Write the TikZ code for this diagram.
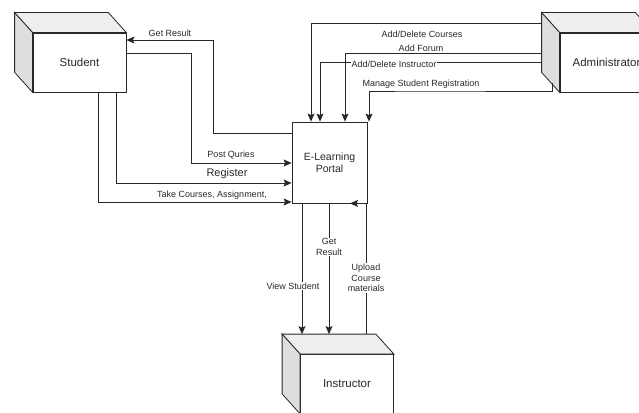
\documentclass[tikz,border=0pt]{standalone}
\usepackage{fontspec}
\setmainfont{Liberation Sans}
\usetikzlibrary{arrows.meta}

\definecolor{topgray}{RGB}{238,238,238}
\definecolor{sidegray}{RGB}{222,222,222}
\definecolor{inkgray}{RGB}{40,40,40}

% side and top faces of a box drawn behind its front node
\newcommand{\cubesides}[1]{%
  \coordinate (#1back) at ([shift={(-18,-20)}]#1.north west);
  \draw[cubeface,fill=topgray] (#1.north west) -- (#1back) -- ([shift={(-18,-20)}]#1.north east) -- (#1.north east) -- cycle;
  \draw[cubeface,fill=sidegray] (#1.north west) -- (#1back) -- ([shift={(-18,-20)}]#1.south west) -- (#1.south west) -- cycle;
}

\begin{document}
\begin{tikzpicture}[x=1pt,y=-1pt,
  entity/.style={draw=inkgray,line width=0.8pt,fill=white,minimum width=93pt,minimum height=59pt,font=\fontsize{11.5}{13}\selectfont,text=inkgray},
  cubeface/.style={draw=inkgray,line width=0.8pt},
  portalbox/.style={draw=inkgray,line width=0.8pt,minimum width=75pt,minimum height=81pt,align=center,font=\fontsize{10.5}{12.5}\selectfont,text=inkgray},
  flow/.style={draw=inkgray,line width=0.8pt,-{Stealth[length=8pt,width=7pt,inset=1.5pt]}},
  lbl/.style={font=\fontsize{9}{10.5}\selectfont,text=inkgray,inner sep=1pt},
  lblw/.style={lbl,fill=white,align=center}]
\clip (0,0) rectangle (639,412);

%External entities
\node[entity] (student) at (79.5,62.5) {Student};
\cubesides{student}
\node[entity] (admin) at (606.5,62.5) {Administrator};
\cubesides{admin}
\node[entity] (instr) at (347,384) {Instructor};
\cubesides{instr}

%Process
\node[portalbox] (portal) at (329.5,162.5) {E-Learning\\Portal};

%Student flows
\draw[flow] (portal.west |- 0,133) -| (213,40) -- (student.east |- 0,40);
\draw[flow] (student.east |- 0,53) -| (191,163) -- (portal.west |- 0,163);
\draw[flow] (student.south -| 116,0) |- (portal.west |- 0,183);
\draw[flow] (student.south -| 98,0) |- (portal.west |- 0,202);
\node[lbl] (lgetres) at (170,33) {Get Result};
\node[lbl] (lpost) at (231,155) {Post Quries};
\node[lbl,font=\fontsize{11}{13}\selectfont] (lreg) at (227,174) {Register};
\node[lbl] (ltake) at (212,195) {Take Courses, Assignment,};

%Administrator flows
\coordinate (mgrstart) at (552,83);
\draw[flow] (adminback |- 0,23) -| (portal.north -| 311,0);
\draw[flow] (adminback |- 0,53) -| (portal.north -| 345,0);
\draw[flow] (adminback |- 0,62) -| (portal.north -| 320,0);
\draw[flow] (mgrstart) |- (420,91) -| (portal.north -| 369,0);
\node[lbl] (lcourses) at (422,34) {Add/Delete Courses};
\node[lbl] (lforum) at (421,48) {Add Forum};
\node[lblw] (linstr) at (394,64) {Add/Delete Instructor};
\node[lbl] (lmanage) at (421,84) {Manage Student Registration};

%Instructor flows
\draw[flow] (portal.south -| 302,0) -- (instrback -| 302,0);
\draw[flow] (portal.south -| 329,0) -- (instrback -| 329,0);
\draw[flow] (instrback -| 366,0) -- (portal.south -| 366,0) -- (portal.south -| 350,0);
\node[lblw] (lview) at (293,286) {View Student};
\node[lblw] (lgetres2) at (329,247) {Get\\Result};
\node[lblw] (lupload) at (366,278) {Upload\\Course\\materials};

\end{tikzpicture}
\end{document}
